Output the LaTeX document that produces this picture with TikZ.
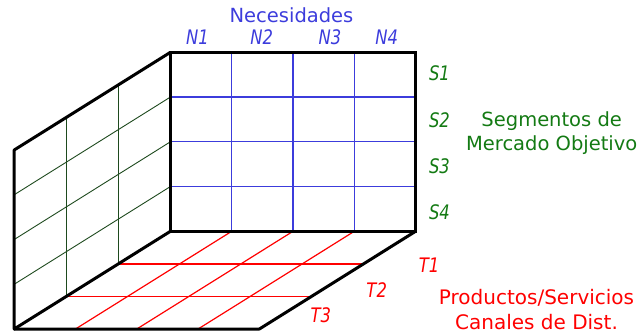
\documentclass[tikz,border=0pt]{standalone}
\usepackage{fontspec}
\setmainfont{DejaVu Sans}
\newfontfamily\axisfont[FakeStretch=0.82]{DejaVu Sans}
\usetikzlibrary{calc}
\definecolor{needblue}{HTML}{3C3CDC}
\definecolor{seggreen}{HTML}{137A13}
\definecolor{gridgreen}{HTML}{1E4A1E}
\definecolor{prodred}{HTML}{FF0000}

\begin{document}
\begin{tikzpicture}[x=1pt,y=-1pt]
    \useasboundingbox (0,0) rectangle (642,333);
    % back panel
    \foreach \i in {1,2,3} {
      \draw[needblue,line width=1.2pt] ({170.4+61.3*\i},52.3) -- ({170.4+61.3*\i},231.3);
      \draw[needblue,line width=1.2pt] (170.4,{52.3+44.75*\i}) -- (415.6,{52.3+44.75*\i});
    }
    % left wall
    \foreach \i in {1,2,3} {
      \draw[gridgreen,line width=0.9pt] (170.4,{52.3+44.75*\i}) -- ++(-156.2,97.7);
    }
    \foreach \k in {1,2} {
      \draw[gridgreen,line width=0.9pt] ({170.4-52.07*\k},{52.3+32.57*\k}) -- ++(0,179);
    }
    % floor
    \foreach \i in {1,2,3} {
      \draw[prodred,line width=1.2pt] ({170.4+61.3*\i},231.3) -- ++(-156.2,97.7);
    }
    \foreach \k in {1,2} {
      \draw[prodred,line width=1.5pt] ({170.4-52.07*\k},{231.3+32.57*\k}) -- ++(245.2,0);
    }
    % outline
    \draw[line width=3pt] (170.4,52.3) rectangle (415.6,231.3);
    \draw[line width=3pt,line join=round] (170.4,52.3) -- (14.2,150) -- (14.2,329) -- (170.4,231.3);
    \draw[line width=3pt,line join=round] (14.2,329) -- (259.4,329) -- (415.6,231.3);
    % labels
    \node[needblue] (necesidades) at (291.5,15.5) {\fontsize{19.5}{20}\selectfont Necesidades};
    \foreach \n/\x in {1/197.5,2/261.7,3/330,4/386.7} {
      \node[needblue] (n\n) at (\x,37.5) {\axisfont\itshape\fontsize{20}{20}\selectfont N\n};
    }
    \foreach \s/\y in {1/73.5,2/120,3/166,4/212} {
      \node[seggreen] (s\s) at (439.5,\y) {\axisfont\itshape\fontsize{20}{20}\selectfont S\s};
    }
    \node[seggreen,align=center,anchor=north,inner sep=0pt,
      font=\fontsize{19.5}{24.7}\selectfont] (segmentos) at (551.7,111.2)
      {Segmentos de\\Mercado Objetivo};
    \foreach \t/\x/\y in {1/429/265,2/376.7/290,3/320.8/315.3} {
      \node[prodred] (t\t) at (\x,\y) {\axisfont\itshape\fontsize{20}{20}\selectfont T\t};
    }
    \node[prodred,align=center,anchor=north,inner sep=0pt,
      font=\fontsize{20}{25.3}\selectfont] (productos) at (536.5,288.8)
      {Productos/Servicios\\Canales de Dist.};
  \end{tikzpicture}
\end{document}
